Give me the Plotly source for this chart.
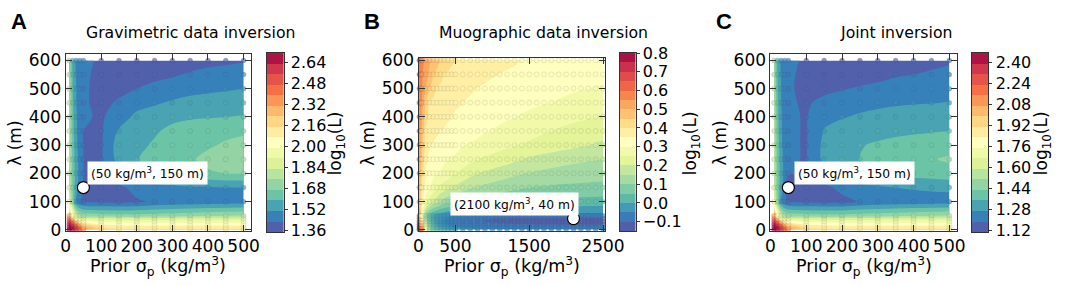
import plotly.graph_objects as go

W, H = 1072, 285

# ---------------- data ----------------
A_x = [10, 20, 30, 40, 50, 100, 150, 200, 250, 300, 350, 400, 450, 500]
A_y = [1, 10, 20, 30, 40, 50, 100, 150, 200, 250, 300, 350, 400, 450, 500, 550, 600]
A_z = [
    [2.75, 2.70, 2.62, 2.52, 2.40, 2.20, 2.16, 2.15, 2.14, 2.14, 2.14, 2.14, 2.14, 2.14],
    [2.73, 2.66, 2.56, 2.45, 2.30, 2.14, 2.11, 2.10, 2.10, 2.10, 2.10, 2.10, 2.10, 2.10],
    [2.68, 2.58, 2.45, 2.30, 2.18, 2.06, 2.04, 2.03, 2.03, 2.03, 2.03, 2.03, 2.03, 2.03],
    [2.60, 2.45, 2.25, 2.10, 2.02, 1.97, 1.96, 1.96, 1.96, 1.96, 1.96, 1.96, 1.96, 1.96],
    [2.50, 2.25, 2.00, 1.92, 1.88, 1.86, 1.86, 1.86, 1.86, 1.86, 1.87, 1.87, 1.87, 1.88],
    [2.35, 2.05, 1.85, 1.76, 1.73, 1.71, 1.70, 1.70, 1.71, 1.72, 1.73, 1.74, 1.75, 1.76],
    [1.95, 1.70, 1.50, 1.44, 1.42, 1.41, 1.41, 1.42, 1.44, 1.45, 1.46, 1.465, 1.47, 1.47],
    [1.84, 1.66, 1.54, 1.47, 1.42, 1.40, 1.41, 1.46, 1.48, 1.49, 1.50, 1.50, 1.51, 1.51],
    [1.83, 1.65, 1.55, 1.48, 1.43, 1.42, 1.50, 1.56, 1.59, 1.62, 1.64, 1.66, 1.67, 1.67],
    [1.82, 1.64, 1.54, 1.48, 1.43, 1.42, 1.54, 1.585, 1.62, 1.64, 1.66, 1.69, 1.71, 1.72],
    [1.81, 1.63, 1.53, 1.47, 1.43, 1.42, 1.55, 1.57, 1.60, 1.64, 1.65, 1.66, 1.68, 1.69],
    [1.80, 1.62, 1.52, 1.47, 1.43, 1.42, 1.52, 1.56, 1.58, 1.61, 1.63, 1.64, 1.65, 1.66],
    [1.79, 1.61, 1.52, 1.47, 1.44, 1.42, 1.47, 1.53, 1.55, 1.57, 1.58, 1.585, 1.59, 1.595],
    [1.78, 1.60, 1.51, 1.47, 1.44, 1.41, 1.44, 1.48, 1.50, 1.52, 1.54, 1.55, 1.555, 1.56],
    [1.77, 1.59, 1.51, 1.47, 1.445, 1.40, 1.41, 1.43, 1.45, 1.47, 1.48, 1.49, 1.50, 1.51],
    [1.76, 1.58, 1.50, 1.47, 1.45, 1.40, 1.38, 1.39, 1.41, 1.42, 1.44, 1.46, 1.47, 1.48],
    [1.74, 1.56, 1.49, 1.47, 1.46, 1.41, 1.38, 1.37, 1.37, 1.38, 1.39, 1.40, 1.41, 1.42],
]

B_x = [10, 20, 30, 40, 50, 100, 150, 200, 250, 300, 350, 400, 450, 500,
       600, 700, 800, 900, 1000, 1100, 1200, 1300, 1400, 1500, 1600, 1700,
       1800, 1900, 2000, 2100, 2200, 2300, 2400, 2500]
B_y = [1, 10, 20, 30, 40, 50, 100, 150, 200, 250, 300, 350, 400, 450, 500, 550, 600]
B_z = [
    [0.82, 0.78, 0.72, 0.65, 0.58, 0.30, 0.13, 0.06, 0.03, 0.01, -0.005, -0.015, -0.022, -0.028,
     -0.035, -0.04, -0.044, -0.047, -0.05, -0.052, -0.054, -0.055, -0.056, -0.057, -0.058, -0.058,
     -0.059, -0.059, -0.06, -0.06, -0.06, -0.06, -0.06, -0.06],
    [0.80, 0.75, 0.68, 0.60, 0.52, 0.25, 0.10, 0.04, 0.01, -0.01, -0.025, -0.035, -0.043, -0.05,
     -0.058, -0.063, -0.067, -0.07, -0.072, -0.074, -0.076, -0.077, -0.078, -0.079, -0.08, -0.08,
     -0.081, -0.081, -0.082, -0.082, -0.082, -0.082, -0.083, -0.083],
    [0.78, 0.70, 0.62, 0.54, 0.46, 0.20, 0.07, 0.02, -0.01, -0.03, -0.045, -0.055, -0.063, -0.07,
     -0.078, -0.083, -0.087, -0.09, -0.093, -0.095, -0.097, -0.098, -0.099, -0.10, -0.101, -0.102,
     -0.102, -0.103, -0.103, -0.103, -0.104, -0.104, -0.104, -0.104],
    [0.74, 0.65, 0.56, 0.48, 0.40, 0.16, 0.05, 0.005, -0.02, -0.04, -0.052, -0.062, -0.07, -0.076,
     -0.085, -0.092, -0.097, -0.101, -0.104, -0.107, -0.109, -0.111, -0.112, -0.113, -0.114, -0.115,
     -0.115, -0.116, -0.116, -0.117, -0.117, -0.117, -0.117, -0.117],
    [0.70, 0.60, 0.50, 0.42, 0.35, 0.13, 0.04, 0.0, -0.02, -0.035, -0.045, -0.055, -0.062, -0.068,
     -0.077, -0.084, -0.09, -0.095, -0.10, -0.103, -0.105, -0.107, -0.108, -0.109, -0.11, -0.11,
     -0.111, -0.111, -0.112, -0.112, -0.112, -0.112, -0.112, -0.112],
    [0.65, 0.55, 0.45, 0.37, 0.30, 0.10, 0.03, -0.005, -0.025, -0.035, -0.042, -0.047, -0.049, -0.05,
     -0.053, -0.056, -0.058, -0.06, -0.062, -0.063, -0.064, -0.065, -0.066, -0.067, -0.068, -0.068,
     -0.069, -0.069, -0.07, -0.07, -0.07, -0.07, -0.07, -0.07],
    [0.52, 0.47, 0.42, 0.38, 0.36, 0.275, 0.225, 0.19, 0.17, 0.145, 0.125, 0.113, 0.105, 0.098,
     0.09, 0.082, 0.075, 0.069, 0.064, 0.058, 0.053, 0.049, 0.046, 0.044, 0.042, 0.04,
     0.038, 0.037, 0.035, 0.034, 0.033, 0.032, 0.031, 0.03],
    [0.54, 0.49, 0.45, 0.41, 0.38, 0.33, 0.305, 0.285, 0.26, 0.238, 0.226, 0.214, 0.202, 0.192,
     0.172, 0.155, 0.145, 0.138, 0.131, 0.125, 0.118, 0.112, 0.106, 0.10, 0.097, 0.095,
     0.093, 0.091, 0.09, 0.089, 0.088, 0.087, 0.086, 0.085],
    [0.555, 0.51, 0.47, 0.44, 0.41, 0.345, 0.32, 0.308, 0.302, 0.297, 0.285, 0.275, 0.262, 0.251,
     0.235, 0.217, 0.20, 0.192, 0.184, 0.176, 0.168, 0.16, 0.152, 0.147, 0.143, 0.139,
     0.135, 0.132, 0.129, 0.127, 0.125, 0.123, 0.121, 0.12],
    [0.57, 0.53, 0.495, 0.465, 0.44, 0.36, 0.338, 0.325, 0.318, 0.312, 0.307, 0.302, 0.298, 0.293,
     0.278, 0.263, 0.25, 0.243, 0.235, 0.228, 0.22, 0.211, 0.20, 0.192, 0.186, 0.18,
     0.175, 0.17, 0.166, 0.162, 0.158, 0.155, 0.152, 0.15],
    [0.58, 0.54, 0.51, 0.485, 0.46, 0.38, 0.355, 0.347, 0.34, 0.334, 0.328, 0.322, 0.317, 0.312,
     0.303, 0.296, 0.288, 0.281, 0.274, 0.267, 0.26, 0.254, 0.248, 0.242, 0.237, 0.232,
     0.227, 0.222, 0.217, 0.212, 0.206, 0.201, 0.196, 0.19],
    [0.59, 0.55, 0.525, 0.50, 0.475, 0.39, 0.37, 0.362, 0.356, 0.351, 0.347, 0.343, 0.339, 0.335,
     0.327, 0.319, 0.312, 0.305, 0.298, 0.291, 0.285, 0.279, 0.273, 0.267, 0.261, 0.255,
     0.249, 0.244, 0.239, 0.235, 0.231, 0.227, 0.223, 0.22],
    [0.60, 0.57, 0.545, 0.52, 0.50, 0.42, 0.385, 0.375, 0.367, 0.362, 0.358, 0.354, 0.351, 0.347,
     0.34, 0.333, 0.327, 0.322, 0.316, 0.311, 0.306, 0.301, 0.296, 0.29, 0.285, 0.28,
     0.275, 0.27, 0.266, 0.262, 0.258, 0.254, 0.25, 0.245],
    [0.61, 0.58, 0.56, 0.55, 0.525, 0.45, 0.395, 0.385, 0.377, 0.37, 0.365, 0.36, 0.357, 0.354,
     0.351, 0.345, 0.34, 0.335, 0.331, 0.327, 0.322, 0.318, 0.314, 0.31, 0.306, 0.303,
     0.30, 0.297, 0.294, 0.29, 0.287, 0.284, 0.28, 0.277],
    [0.62, 0.59, 0.57, 0.555, 0.55, 0.495, 0.455, 0.425, 0.40, 0.39, 0.382, 0.376, 0.37, 0.365,
     0.36, 0.355, 0.35, 0.346, 0.342, 0.338, 0.334, 0.33, 0.326, 0.322, 0.318, 0.315,
     0.312, 0.309, 0.306, 0.304, 0.302, 0.30, 0.298, 0.296],
    [0.63, 0.60, 0.58, 0.565, 0.555, 0.52, 0.49, 0.455, 0.44, 0.42, 0.40, 0.393, 0.386, 0.38,
     0.372, 0.366, 0.36, 0.357, 0.353, 0.35, 0.345, 0.341, 0.337, 0.334, 0.331, 0.328,
     0.325, 0.322, 0.32, 0.318, 0.316, 0.314, 0.312, 0.31],
    [0.64, 0.61, 0.59, 0.575, 0.565, 0.535, 0.505, 0.485, 0.466, 0.448, 0.435, 0.423, 0.41, 0.399,
     0.393, 0.387, 0.382, 0.376, 0.371, 0.366, 0.361, 0.356, 0.351, 0.347, 0.344, 0.341,
     0.338, 0.335, 0.333, 0.331, 0.329, 0.327, 0.325, 0.323],
]

C_x = [10, 20, 30, 40, 50, 100, 150, 200, 250, 300, 350, 400, 450, 500]
C_y = [1, 10, 20, 30, 40, 50, 100, 150, 200, 250, 300, 350, 400, 450, 500, 550, 600]
C_z = [
    [2.51, 2.46, 2.38, 2.28, 2.16, 1.96, 1.92, 1.91, 1.90, 1.90, 1.90, 1.90, 1.90, 1.90],
    [2.49, 2.42, 2.32, 2.21, 2.06, 1.90, 1.87, 1.86, 1.86, 1.86, 1.86, 1.86, 1.86, 1.86],
    [2.44, 2.34, 2.21, 2.06, 1.94, 1.82, 1.80, 1.79, 1.79, 1.79, 1.79, 1.79, 1.79, 1.79],
    [2.36, 2.21, 2.01, 1.86, 1.78, 1.73, 1.72, 1.72, 1.72, 1.72, 1.72, 1.72, 1.72, 1.72],
    [2.26, 2.01, 1.76, 1.68, 1.64, 1.62, 1.62, 1.62, 1.62, 1.62, 1.63, 1.63, 1.63, 1.64],
    [2.11, 1.81, 1.61, 1.52, 1.49, 1.47, 1.46, 1.46, 1.47, 1.48, 1.49, 1.50, 1.51, 1.52],
    [1.71, 1.46, 1.26, 1.20, 1.18, 1.17, 1.17, 1.17, 1.195, 1.21, 1.22, 1.225, 1.23, 1.23],
    [1.60, 1.42, 1.30, 1.23, 1.10, 1.16, 1.17, 1.21, 1.245, 1.26, 1.27, 1.28, 1.285, 1.29],
    [1.59, 1.41, 1.31, 1.24, 1.20, 1.18, 1.25, 1.30, 1.33, 1.35, 1.37, 1.38, 1.39, 1.40],
    [1.58, 1.40, 1.30, 1.24, 1.20, 1.185, 1.29, 1.33, 1.35, 1.37, 1.39, 1.41, 1.425, 1.44],
    [1.57, 1.39, 1.29, 1.23, 1.20, 1.185, 1.29, 1.33, 1.345, 1.36, 1.37, 1.38, 1.39, 1.40],
    [1.56, 1.38, 1.28, 1.23, 1.20, 1.185, 1.275, 1.30, 1.315, 1.325, 1.335, 1.34, 1.345, 1.35],
    [1.55, 1.37, 1.28, 1.23, 1.20, 1.185, 1.25, 1.265, 1.28, 1.29, 1.30, 1.305, 1.31, 1.315],
    [1.54, 1.36, 1.27, 1.23, 1.20, 1.18, 1.21, 1.23, 1.245, 1.255, 1.26, 1.265, 1.268, 1.272],
    [1.53, 1.35, 1.27, 1.23, 1.205, 1.16, 1.17, 1.185, 1.20, 1.215, 1.23, 1.24, 1.25, 1.255],
    [1.52, 1.34, 1.26, 1.23, 1.21, 1.16, 1.14, 1.14, 1.15, 1.16, 1.18, 1.19, 1.20, 1.21],
    [1.50, 1.32, 1.25, 1.23, 1.22, 1.17, 1.14, 1.13, 1.13, 1.14, 1.15, 1.16, 1.17, 1.18],
]

# contour level edges
A_levels = [round(1.35 + 0.08 * i, 4) for i in range(18)]
B_levels = [round(-0.15 + 0.05 * i, 4) for i in range(20)]
C_levels = [round(1.11 + 0.08 * i, 4) for i in range(18)]

A_cticks = [1.36, 1.52, 1.68, 1.84, 2.00, 2.16, 2.32, 2.48, 2.64]
B_cticks = [-0.1, 0.0, 0.1, 0.2, 0.3, 0.4, 0.5, 0.6, 0.7, 0.8]
B_cticktext = ["\u22120.1", "0.0", "0.1", "0.2", "0.3", "0.4", "0.5", "0.6", "0.7", "0.8"]
C_cticks = [1.12, 1.28, 1.44, 1.60, 1.76, 1.92, 2.08, 2.24, 2.40]

AC_xticks = [0, 100, 200, 300, 400, 500]
B_xticks = [0, 500, 1500, 2500]
Y_ticks = [0, 100, 200, 300, 400, 500, 600]

titles = ["Gravimetric data inversion", "Muographic data inversion", "Joint inversion"]
title_cx = [190, 551, 911]
letters = ["A", "B", "C"]
best = [(50, 150), (2100, 40), (50, 150)]
best_text = ["(50 kg/m<sup>3</sup>, 150 m)", "(2100 kg/m<sup>3</sup>, 40 m)", "(50 kg/m<sup>3</sup>, 150 m)"]
best_text_pos = [(230, 200), (1300, 91), (236, 200)]

# ---------------- styling ----------------
SPECTRAL = [(158, 1, 66), (213, 62, 79), (244, 109, 67), (253, 174, 97), (254, 224, 139),
            (255, 255, 191), (230, 245, 152), (171, 221, 164), (102, 194, 165), (50, 136, 189),
            (94, 79, 162)]
SPEC_R = SPECTRAL[::-1]


def spec(t):
    t = min(max(t, 0.0), 1.0) * 10
    i = min(int(t), 9)
    f = t - i
    a, b = SPEC_R[i], SPEC_R[i + 1]
    return "rgb(%d,%d,%d)" % tuple(round(a[k] + (b[k] - a[k]) * f) for k in range(3))


CONT_SCALE = [[i / 10, "rgb(%d,%d,%d)" % SPEC_R[i]] for i in range(11)]
FONT = "DejaVu Sans"


def fx(p):
    return p / W


def fy(p):
    return 1 - p / H


panels = [
    dict(x=A_x, y=A_y, z=A_z, lv=A_levels, ct=A_cticks, ctt=[f"{v:.2f}" for v in A_cticks],
         xt=AC_xticks, xr=[0, 522], yr=[-4, 623], dom=(62, 252, 48, 237), cb=(268, 285, 47, 238),
         cbt=340),
    dict(x=B_x, y=B_y, z=B_z, lv=B_levels, ct=B_cticks, ctt=B_cticktext,
         xt=B_xticks, xr=[0, 2530], yr=[-4, 609], dom=(423, 614, 52, 237), cb=(629, 645, 47, 237),
         cbt=703),
    dict(x=C_x, y=C_y, z=C_z, lv=C_levels, ct=C_cticks, ctt=[f"{v:.2f}" for v in C_cticks],
         xt=AC_xticks, xr=[0, 522], yr=[-4, 623], dom=(783, 974, 48, 237), cb=(989, 1006, 47, 238),
         cbt=1062),
]

fig = go.Figure()
layout = dict(width=W, height=H, margin=dict(l=0, r=0, t=0, b=0),
              paper_bgcolor="white", plot_bgcolor="white", showlegend=False,
              font=dict(family=FONT, size=17, color="black"))
annotations = []

axis_line = dict(showline=True, linecolor="#333333", linewidth=1, showgrid=False, zeroline=False)

for k, p in enumerate(panels):
    mx, my = 2 * k + 1, 2 * k + 1
    cx, cy = 2 * k + 2, 2 * k + 2
    xa_m = "x" if mx == 1 else f"x{mx}"
    ya_m = "y" if my == 1 else f"y{my}"
    xa_c, ya_c = f"x{cx}", f"y{cy}"

    lv = p["lv"]
    N = len(lv) - 1
    bands = [spec((i + 0.5) / N) for i in range(N)]
    cscale = [[j / (N - 1), bands[j]] for j in range(N)]
    step = lv[1] - lv[0]

    fig.add_trace(go.Contour(
        x=p["x"], y=p["y"], z=p["z"], xaxis=xa_m, yaxis=ya_m,
        colorscale=cscale, autocontour=False,
        contours=dict(start=lv[1], end=lv[-2], size=step, coloring="fill", showlines=False),
        line=dict(width=0), showscale=False, hoverinfo="skip"))

    gx = [xv for yv in p["y"] for xv in p["x"]]
    gy = [yv for yv in p["y"] for xv in p["x"]]
    gz = [v for row in p["z"] for v in row]
    fig.add_trace(go.Scatter(
        x=gx, y=gy, mode="markers", xaxis=xa_m, yaxis=ya_m, hoverinfo="skip", cliponaxis=False,
        marker=dict(size=5, color=gz, colorscale=CONT_SCALE, cmin=lv[0], cmax=lv[-1],
                    opacity=0.65, line=dict(width=0.7, color="rgba(60,60,60,0.25)"))))

    bx, by = best[k]
    fig.add_trace(go.Scatter(
        x=[bx], y=[by], mode="markers", xaxis=xa_m, yaxis=ya_m, hoverinfo="skip", cliponaxis=False,
        marker=dict(size=12, color="white", line=dict(width=1.2, color="black"))))

    # colorbar drawn as a heatmap of the level bands
    stepped = []
    for i in range(N):
        stepped.append([i / N, bands[i]])
        stepped.append([(i + 1) / N, bands[i]])
    fig.add_trace(go.Heatmap(
        x=[0, 1], y=lv, z=[[i] for i in range(N)], zmin=-0.5, zmax=N - 0.5,
        colorscale=stepped, showscale=False, xaxis=xa_c, yaxis=ya_c, hoverinfo="skip"))

    x0, x1, y0, y1 = p["dom"]
    layout["xaxis" if mx == 1 else f"xaxis{mx}"] = dict(
        domain=[fx(x0), fx(x1)], range=p["xr"], anchor=ya_m, tickvals=p["xt"], tickangle=0,
        ticks="inside", ticklen=6, tickcolor="#333333", mirror="ticks",
        tickfont=dict(family=FONT, size=17), **axis_line)
    layout["yaxis" if my == 1 else f"yaxis{my}"] = dict(
        domain=[fy(y1), fy(y0)], range=p["yr"], anchor=xa_m, tickvals=Y_ticks,
        ticks="inside", ticklen=6, tickcolor="#333333", mirror="ticks",
        tickfont=dict(family=FONT, size=17), **axis_line)

    c0, c1, d0, d1 = p["cb"]
    layout[f"xaxis{cx}"] = dict(domain=[fx(c0), fx(c1)], range=[0, 1], anchor=ya_c,
                                showticklabels=False, ticks="", mirror=True, fixedrange=True,
                                **axis_line)
    layout[f"yaxis{cy}"] = dict(domain=[fy(d1), fy(d0)], range=[lv[0], lv[-1]], anchor=xa_c,
                                side="right", tickvals=p["ct"], ticktext=p["ctt"], ticks="outside",
                                ticklen=3, tickcolor="#333333", mirror=True,
                                tickfont=dict(family=FONT, size=16), **axis_line)

    # titles and labels
    annotations.append(dict(text=titles[k], x=fx(title_cx[k]), y=fy(25), xref="paper",
                            yref="paper", showarrow=False, xanchor="center", yanchor="middle",
                            font=dict(family=FONT, size=15.7)))
    annotations.append(dict(text=f"<b>{letters[k]}</b>", x=fx(x0 - 48), y=fy(13), xref="paper",
                            yref="paper", showarrow=False, xanchor="center", yanchor="middle",
                            font=dict(family="Liberation Sans", size=22)))
    annotations.append(dict(text="Prior \u03c3<sub>p</sub> (kg/m<sup>3</sup>)", x=fx((x0 + x1) / 2),
                            y=fy(259), xref="paper", yref="paper", showarrow=False,
                            xanchor="center", yanchor="top", font=dict(family=FONT, size=17.5)))
    annotations.append(dict(text="\u03bb (m)", x=fx(x0 - 52), y=fy(143), xref="paper", yref="paper",
                            showarrow=False, textangle=-90, xanchor="center", yanchor="middle",
                            font=dict(family=FONT, size=17)))
    annotations.append(dict(text="log<sub>10</sub>(L)", x=fx(p["cbt"]), y=fy(143), xref="paper",
                            yref="paper", showarrow=False, textangle=-90, xanchor="center",
                            yanchor="middle", font=dict(family=FONT, size=17)))
    tx, ty = best_text_pos[k]
    annotations.append(dict(text=best_text[k], x=tx, y=ty, xref=xa_m, yref=ya_m, showarrow=False,
                            xanchor="center", yanchor="middle", bgcolor="white", borderpad=3,
                            font=dict(family=FONT, size=12.3)))

layout["annotations"] = annotations
fig.update_layout(**layout)
fig.write_html("out.html", config={"displayModeBar": False},
               post_script="document.body.style.margin='0px';")
